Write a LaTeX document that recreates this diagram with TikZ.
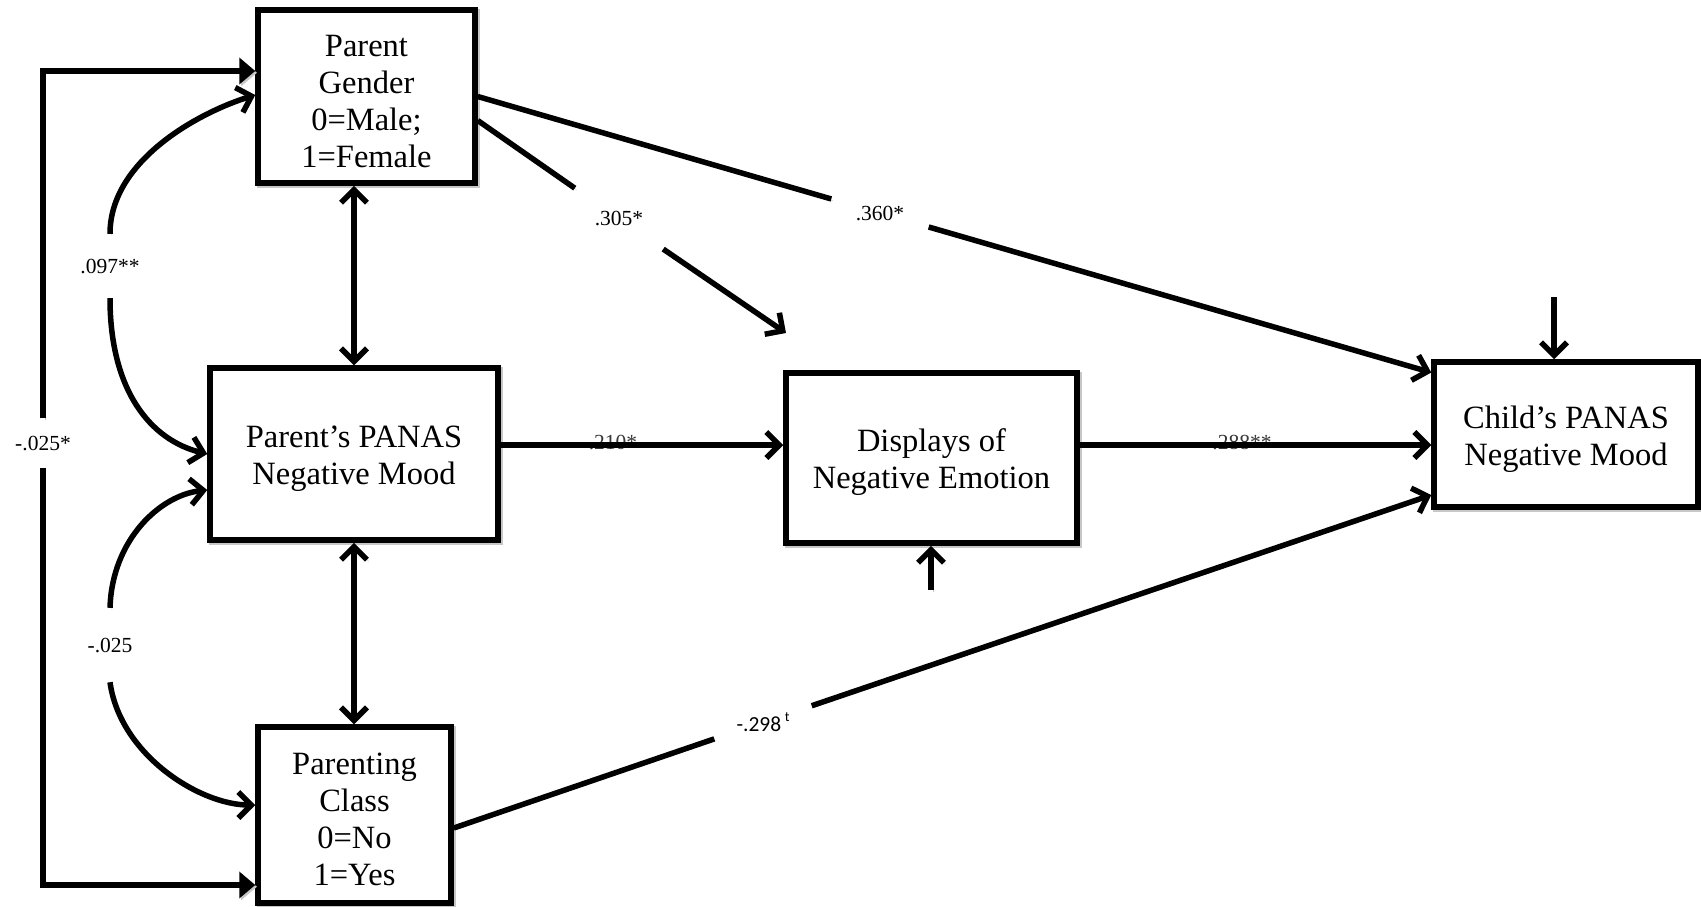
\documentclass[tikz,border=0pt]{standalone}
\usepackage{fontspec}
\setmainfont{Liberation Serif}
\newfontfamily\calib{Carlito}
\usetikzlibrary{arrows.meta,calc}
\newcommand{\topstrut}{\rule{0pt}{31pt}}
\begin{document}
\begin{tikzpicture}[x=1pt,y=-1pt,
  shad/.style={preaction={draw=black!22, transform canvas={shift={(1.8,1.8)}}}},
  box/.style={draw, line width=5.5pt, shad, inner sep=0pt, align=center, fill=white,
              font=\fontsize{32.5}{37}\selectfont},
  ln/.style={line width=5.5pt, shad},
  barb/.tip={Straight Barb[length=13pt,width=26pt]},
  arr/.style={ln, -barb},
  dbl/.style={ln, barb-barb},
  tri/.style={ln, -{Triangle[length=16pt,width=26pt]}},
  lab/.style={font=\fontsize{21.5}{24}\selectfont, inner sep=0pt},
]
\fill[white] (0,0) rectangle (1701,906);
\useasboundingbox (0,0) rectangle (1701,906);

% boxes
\node[box, minimum width=217pt, minimum height=173pt] (PG) at (366.5,96.5) {\topstrut Parent\\Gender\\0=Male;\\1=Female};
\node[box, minimum width=288pt, minimum height=172pt] (PN) at (354,454) {\topstrut Parent’s PANAS\\Negative Mood};
\node[box, minimum width=193pt, minimum height=176pt] (PC) at (354.5,815) {\topstrut Parenting\\Class\\0=No\\1=Yes};
\node[box, minimum width=291pt, minimum height=170pt] (DN) at (931.5,458) {\topstrut Displays of\\Negative Emotion};
\node[box, minimum width=264pt, minimum height=145pt] (CH) at (1566,434.5) {\topstrut Child’s PANAS\\Negative Mood};

% helper coordinates
\coordinate (LT) at (43,71);
\coordinate (LB) at (43,885);
\coordinate (y445) at (0,445);
\coordinate (A305) at (786,333);
\coordinate (E1) at (1554,297);
\coordinate (E2) at (931,590);

% labels that sit under the lines
\node[lab, text=black!78] (L210) at (613,442) {.210*};
\node[lab, text=black!78] (L288) at (1242,442) {.288**};

% labels that break the lines
\node[lab, minimum height=49pt] (L025s) at (43,443) {-.025*};
\node[lab, minimum height=64pt] (L097) at (110,266) {.097**};
\node[lab, minimum height=74pt] (L025) at (110,645) {-.025};
\node[lab, minimum width=88pt, minimum height=64pt] (L305) at (619,218.9) {.305*};
\node[lab, minimum width=97pt, minimum height=30pt] (L360) at (880,213) {.360*};
\node[lab, minimum width=97pt, minimum height=36pt] (L298) at (763,722.3) {\calib -.298\,\raisebox{0.45em}{\fontsize{14}{16}\selectfont t}};

% left frame arrows
\draw[tri] (L025s) |- (PG.west |- LT);
\draw[tri] (L025s) |- (PC.west |- LB);

% correlation curves
\draw[arr] (L097.north) .. controls (110,160) and (200,112) .. ($(PG.west)+(0,-1.5)$);
\draw[arr] (L097.south) .. controls (110,390) and (150,440) .. (PN.west);
\draw[arr] (L025.north) .. controls (112,540) and (160,495) .. ($(PN.west)+(0,36)$);
\draw[arr] (L025.south) .. controls (120,755) and (200,805) .. ($(PC.west)+(0,-10)$);

% double arrows
\draw[dbl] (PN.north) -- (PN.north |- PG.south);
\draw[dbl] (PN.south) -- (PN.south |- PC.north);

% paths
\draw[ln] ($(PG.east)+(0,24)$) -- (L305);
\draw[arr] (L305) -- (A305);
\draw[ln] (PG.east) -- (L360);
\draw[arr] (L360) -- ($(CH.west)+(0,-62)$);
\draw[arr] (PN.east |- y445) -- (DN.west |- y445);
\draw[arr] (DN.east |- y445) -- (CH.west |- y445);
\draw[ln] ($(PC.east)+(0,13)$) -- (L298);
\draw[arr] (L298) -- ($(CH.west)+(0,60.5)$);

% error terms
\draw[arr] (E1) -- (CH.north -| E1);
\draw[arr] (E2) -- (DN.south -| E2);
\end{tikzpicture}
\end{document}
